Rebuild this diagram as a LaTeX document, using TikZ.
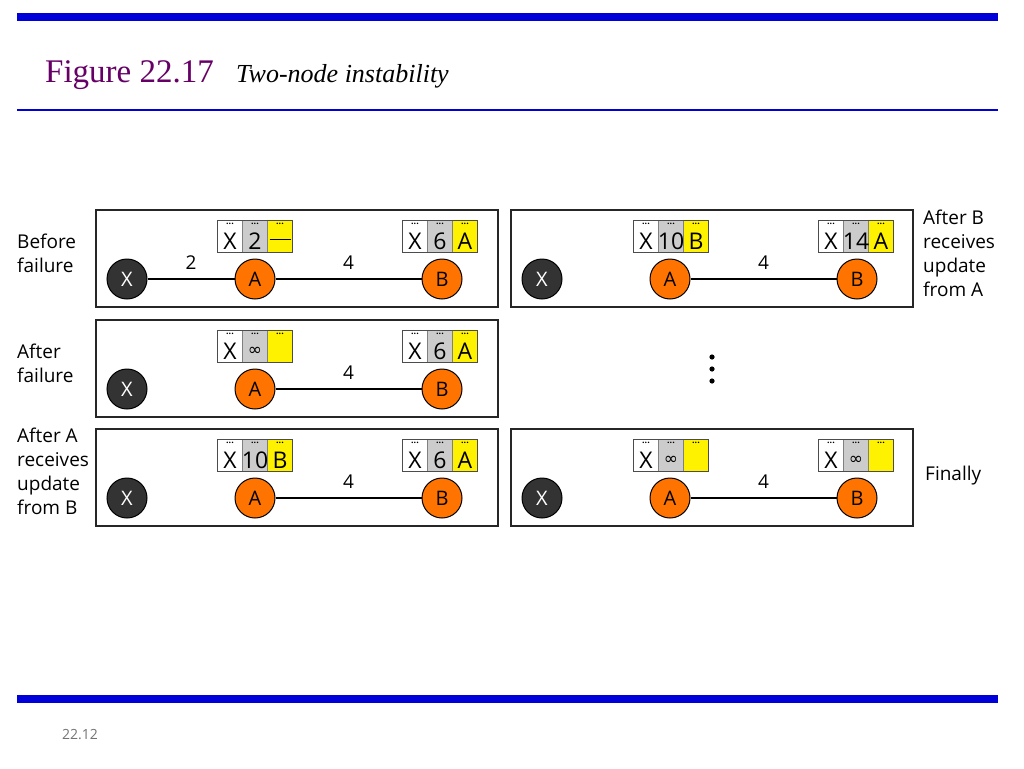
\documentclass[tikz,border=0pt]{standalone}
\usepackage{fontspec}
\setmainfont{Liberation Serif}
\newfontfamily\sfo{Open Sans}
\newfontfamily\djv{DejaVu Sans}
\begin{document}
\begin{tikzpicture}[x=1pt,y=-1pt,
  panel/.style={draw=black!85,line width=1.2pt},
  rnode/.style={circle,draw=black,line width=1pt,minimum size=40pt,inner sep=0pt,font=\sfo\fontsize{20}{20}\selectfont},
  xn/.style={rnode,fill=black!80,text=white},
  an/.style={rnode,fill=orange!90!red,text=black},
  link/.style={line width=1.2pt},
  cell/.style={draw=black!50,line width=0.6pt,minimum width=25pt,minimum height=32pt,inner sep=0pt},
  cellt/.style={font=\sfo\fontsize{23}{23}\selectfont,inner sep=0pt},
  lbl/.style={font=\sfo\fontsize{19}{24}\selectfont,align=left,anchor=north west,inner sep=0pt},
  cost/.style={font=\sfo\fontsize{19}{19}\selectfont}]
\useasboundingbox (0,0) rectangle (1024,768);
\fill[blue!85!black] (17,13) rectangle (998,21);
\draw[blue!85!black,line width=2.5pt] (17,110) -- (998,110);
\fill[blue!85!black] (17,695) rectangle (998,703);
\node[anchor=base west,inner sep=0pt,text=violet!80!black,font=\fontsize{33}{33}\selectfont] (t1) at (45,82) {Figure 22.17};
\node[anchor=base west,inner sep=0pt,font=\itshape\fontsize{26}{26}\selectfont] (t2) at (236,82) {Two-node instability};
\node[text=black!55,font=\sfo\fontsize{14}{14}\selectfont] (pg) at (80,735) {22.12};
\newcommand\rtab[6]{%
 \node[cell,fill=white] (#1a) at (#2-25,#3+16) {};
 \node[cell,fill=black!20] (#1b) at (#2,#3+16) {};
 \node[cell,fill=yellow] (#1c) at (#2+25,#3+16) {};
 \draw[black!70,line width=0.8pt] (#2-37.5,#3) rectangle (#2+37.5,#3+32);
 \foreach \k/\dx in {a/-25,b/0,c/25}{\node[font=\sfo\bfseries\fontsize{9}{9}\selectfont,inner sep=0pt] (#1\k d) at (#2+\dx,#3+4) {...};}
 \node[cellt] (#1at) at (#2-25,#3+21) {#4};
 \node[cellt] (#1bt) at (#2,#3+21) {#5};
 \node[cellt] (#1ct) at (#2+25,#3+21) {#6};}
\newcommand\infy{{\djv\fontsize{17}{17}\selectfont ∞}}
\newcommand\rpanel[3]{%
 \draw[panel] (96+#2,#3) rectangle (498+#2,#3+97);
 \node[xn] (#1X) at (127+#2,#3+69) {X};
 \node[an] (#1A) at (255+#2,#3+69) {A};
 \node[an] (#1B) at (442+#2,#3+69) {B};
 \draw[link] (#1A) -- node[cost,above=6pt] (#1l4) {4} (#1B);}
\rpanel{p}{0}{210}
\draw[link] (pX) -- node[cost,above=6pt] (pl2) {2} (pA);
\rtab{ta}{255}{220}{X}{2}{\rule[0.3ex]{21pt}{0.8pt}}
\rtab{tb}{440}{220}{X}{6}{A}
\rpanel{q}{415}{210}
\rtab{tc}{671}{220}{X}{10}{B}
\rtab{td}{856}{220}{X}{14}{A}
\rpanel{r}{0}{320}
\rtab{te}{255}{330}{X}{\infy}{}
\rtab{tf}{440}{330}{X}{6}{A}
\rpanel{s}{0}{429}
\rtab{tg}{255}{439}{X}{10}{B}
\rtab{th}{440}{439}{X}{6}{A}
\rpanel{u}{415}{429}
\rtab{ti}{671}{439}{X}{\infy}{}
\rtab{tj}{856}{439}{X}{\infy}{}
\node[lbl] (L1) at (17,234) {Before\\failure};
\node[lbl] (L2) at (17,344) {After\\failure};
\node[lbl] (L3) at (17,428) {After A\\receives\\update\\from B};
\node[lbl] (L4) at (923,210) {After B\\receives\\update\\from A};
\node[lbl] (L5) at (925,466) {Finally};
\foreach \yy/\nn in {357/d1,369/d2,381/d3}{\fill (712,\yy) circle (2.6pt) coordinate (\nn);}
\end{tikzpicture}
\end{document}
